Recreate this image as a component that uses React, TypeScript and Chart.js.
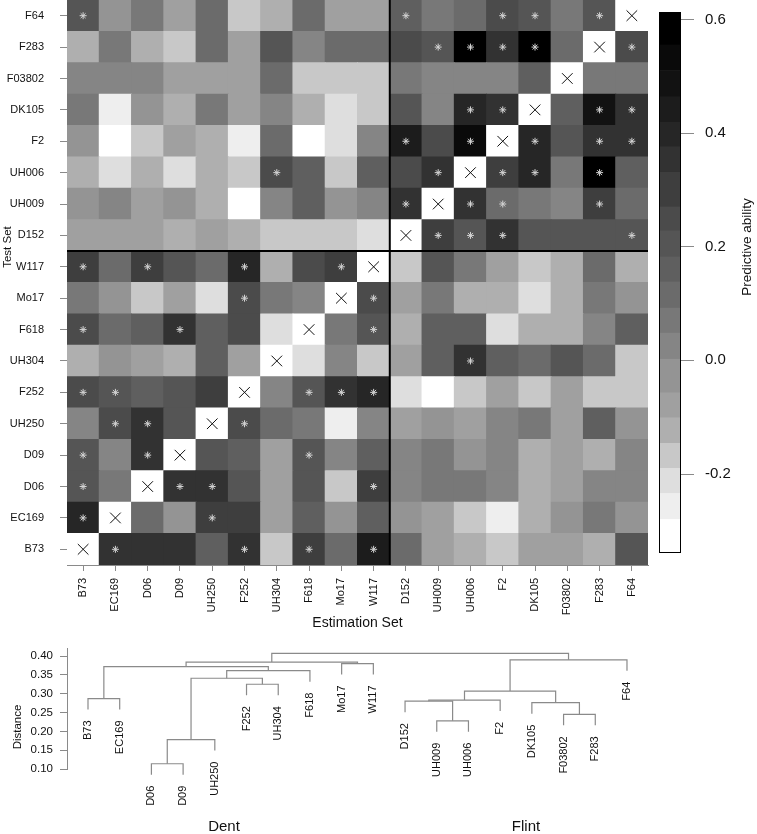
import React, { useEffect, useRef } from "react";
import { Chart, registerables } from "chart.js";
Chart.register(...registerables);

const FONT = "'Liberation Sans', Arial, Helvetica, sans-serif";

// Genotype order (x: estimation set left→right; y: test set bottom→top; dendrogram leaf order)
const genotypes = ["B73", "EC169", "D06", "D09", "UH250", "F252", "UH304", "F618", "Mo17", "W117",
  "D152", "UH009", "UH006", "F2", "DK105", "F03802", "F283", "F64"];
const dentCount = 10;

// Predictive ability, one array per test-set row; columns follow `genotypes`; null = diagonal
const rowB73 = [null, 0.36, 0.36, 0.36, 0.15, 0.36, -0.17, 0.29, 0.11, 0.43, 0.11, -0.07, -0.11, -0.17, -0.07, -0.07, -0.12, 0.22];
const rowEC169 = [0.41, null, 0.13, -0.05, 0.32, 0.32, -0.07, 0.15, -0.02, 0.15, -0.02, -0.08, -0.18, -0.25, -0.115, -0.04, 0.055, -0.01];
const rowD06 = [0.22, 0.06, null, 0.36, 0.36, 0.20, -0.07, 0.19, -0.16, 0.29, 0.01, 0.055, 0.055, 0.02, -0.11, -0.07, 0.01, 0.01];
const rowD09 = [0.19, 0.01, 0.34, null, 0.20, 0.17, -0.07, 0.20, 0.01, 0.15, 0.01, 0.055, -0.05, 0.02, -0.11, -0.07, -0.11, 0.01];
const rowUH250 = [0.04, 0.26, 0.34, 0.20, null, 0.24, 0.11, 0.08, -0.25, 0.01, -0.09, -0.05, -0.09, 0.02, 0.06, -0.07, 0.17, -0.05];
const rowF252 = [0.24, 0.20, 0.15, 0.20, 0.32, null, 0.04, 0.19, 0.36, 0.39, -0.22, -0.31, -0.17, -0.07, -0.17, -0.07, -0.16, -0.16];
const rowUH304 = [-0.12, -0.05, -0.08, -0.11, 0.15, -0.07, null, -0.20, 0.01, -0.16, -0.09, 0.15, 0.34, 0.17, 0.13, 0.22, 0.11, -0.17];
const rowF618 = [0.26, 0.11, 0.15, 0.34, 0.17, 0.24, -0.20, null, 0.08, 0.20, -0.13, 0.15, 0.15, -0.22, -0.14, -0.14, 0.01, 0.17];
const rowMo17 = [0.08, -0.02, -0.17, -0.07, -0.20, 0.26, 0.08, 0.04, null, 0.26, -0.08, 0.06, -0.11, -0.14, -0.22, -0.14, 0.055, -0.02];
const rowW117 = [0.29, 0.11, 0.32, 0.22, 0.11, 0.41, -0.12, 0.26, 0.32, null, -0.16, 0.20, 0.08, -0.07, -0.185, -0.12, 0.11, -0.12];
const rowD152 = [-0.07, -0.08, -0.08, -0.11, -0.08, -0.11, -0.16, -0.17, -0.17, -0.20, null, 0.32, 0.20, 0.36, 0.20, 0.20, 0.20, 0.19];
const rowUH009 = [-0.05, 0.04, -0.08, -0.02, -0.12, -0.31, 0.04, 0.15, -0.02, 0.04, 0.34, null, 0.36, 0.13, 0.055, 0.01, 0.29, 0.11];
const rowUH006 = [-0.12, -0.20, -0.11, -0.22, -0.11, -0.17, 0.26, 0.15, -0.16, 0.15, 0.24, 0.36, null, 0.32, 0.41, 0.06, 0.59, 0.17];
const rowF2 = [-0.05, -0.31, -0.17, -0.07, -0.12, -0.25, 0.11, -0.31, -0.20, 0.01, 0.45, 0.24, 0.53, null, 0.41, 0.20, 0.37, 0.36];
const rowDK105 = [0.055, -0.26, -0.05, -0.14, 0.06, -0.07, 0.01, -0.11, -0.20, -0.17, 0.19, 0.04, 0.41, 0.37, null, 0.15, 0.50, 0.37];
const rowF03802 = [0.04, 0.01, 0.01, -0.07, -0.07, -0.07, 0.13, -0.16, -0.17, -0.16, 0.08, 0.01, 0.04, 0.04, 0.17, null, 0.08, 0.055];
const rowF283 = [-0.12, 0.055, -0.11, -0.16, 0.13, -0.07, 0.22, 0.01, 0.11, 0.11, 0.24, 0.22, 0.59, 0.36, 0.59, 0.11, null, 0.26];
const rowF64 = [0.22, -0.02, 0.055, -0.07, 0.13, -0.16, -0.12, 0.11, -0.08, -0.08, 0.17, 0.055, 0.13, 0.26, 0.20, 0.08, 0.22, null];
const predictive = [rowB73, rowEC169, rowD06, rowD09, rowUH250, rowF252, rowUH304, rowF618, rowMo17, rowW117,
  rowD152, rowUH009, rowUH006, rowF2, rowDK105, rowF03802, rowF283, rowF64];

// Significant cells (asterisks): estimation-set genotypes per test-set row
const starsB73 = ["EC169", "F252", "F618", "W117"];
const starsEC169 = ["B73", "UH250"];
const starsD06 = ["B73", "D09", "UH250", "W117"];
const starsD09 = ["B73", "D06", "F618"];
const starsUH250 = ["EC169", "D06", "F252"];
const starsF252 = ["B73", "EC169", "F618", "Mo17", "W117"];
const starsUH304 = ["UH006"];
const starsF618 = ["B73", "D09", "W117"];
const starsMo17 = ["F252", "W117"];
const starsW117 = ["B73", "D06", "F252", "Mo17"];
const starsD152 = ["UH009", "UH006", "F2", "F64"];
const starsUH009 = ["D152", "UH006", "F2", "F283"];
const starsUH006 = ["UH304", "UH009", "F2", "DK105", "F283"];
const starsF2 = ["D152", "UH006", "DK105", "F283", "F64"];
const starsDK105 = ["UH006", "F2", "F283", "F64"];
const starsF03802: string[] = [];
const starsF283 = ["UH009", "UH006", "F2", "DK105", "F64"];
const starsF64 = ["B73", "D152", "F2", "DK105", "F283"];
const stars = [starsB73, starsEC169, starsD06, starsD09, starsUH250, starsF252, starsUH304, starsF618, starsMo17,
  starsW117, starsD152, starsUH009, starsUH006, starsF2, starsDK105, starsF03802, starsF283, starsF64];

// Colour key: band breaks (bottom → top) and the grey level of each band
const keyBreaks = [-0.339, -0.280, -0.234, -0.190, -0.146, -0.101, -0.057, 0.002, 0.048, 0.092, 0.138,
  0.182, 0.228, 0.270, 0.331, 0.376, 0.419, 0.464, 0.510, 0.555, 0.613];
const keyGrays = [255, 238, 222, 200, 175, 160, 148, 133, 120, 107, 95, 85, 75, 62, 50, 38, 28, 18, 10, 0];
const keyTicks = [-0.2, 0.0, 0.2, 0.4, 0.6];

// Dendrogram (hclust-style merges: negative = leaf number, positive = earlier merge)
const mergeLeft = [-3, 1, -12, -16, -15, -11, 6, -1, 7, -6, 2, 11, 8, -9, 13, 9, 15];
const mergeRight = [-4, -5, -13, -17, 4, 3, -14, -2, 5, -7, 10, -8, 12, -10, 14, -18, 16];
const mergeHeight = [0.114, 0.178, 0.228, 0.245, 0.276, 0.280, 0.283, 0.287, 0.307, 0.325, 0.341, 0.361, 0.372, 0.380, 0.384, 0.390, 0.407];
const leafHang = 0.029;
const distanceTicks = [0.10, 0.15, 0.20, 0.25, 0.30, 0.35, 0.40];

function grayCss(g: number) {
  return `rgb(${g},${g},${g})`;
}
function cellColor(v: number | null) {
  if (v === null || v === undefined) return "#ffffff";
  let i = 0;
  while (i < keyGrays.length - 1 && v >= keyBreaks[i + 1]) i++;
  return grayCss(keyGrays[i]);
}

function drawRotated(ctx: CanvasRenderingContext2D, text: string, x: number, y: number, font: string, align: CanvasTextAlign) {
  ctx.save();
  ctx.translate(x, y);
  ctx.rotate(-Math.PI / 2);
  ctx.font = font;
  ctx.fillStyle = "#111";
  ctx.textAlign = align;
  ctx.textBaseline = "middle";
  ctx.fillText(text, 0, 0);
  ctx.restore();
}

function heatConfig(): any {
  const bars = predictive.map((row, r) => ({
    type: "bar",
    data: row.map(() => [r - 0.5, r + 0.5]),
    backgroundColor: row.map(cellColor),
    borderWidth: 0,
    grouped: false,
    barPercentage: 1,
    categoryPercentage: 1,
    inflateAmount: 0.5,
    order: 2,
  }));
  const starPts: any[] = [];
  stars.forEach((list, r) => list.forEach((g) => starPts.push({ x: g, y: r })));
  const starSet = {
    type: "line",
    data: starPts,
    showLine: false,
    pointStyle: "star",
    pointRadius: 3.5,
    pointBorderColor: "#d4d4d4",
    pointBackgroundColor: "rgba(0,0,0,0)",
    pointBorderWidth: 1,
    order: 0,
  };
  const diagSet = {
    type: "line",
    data: genotypes.map((g, i) => ({ x: g, y: i })),
    showLine: false,
    pointStyle: "crossRot",
    pointRadius: 7.5,
    pointBorderColor: "#111",
    pointBackgroundColor: "rgba(0,0,0,0)",
    pointBorderWidth: 1,
    order: 0,
  };
  const separators = {
    id: "separators",
    afterDatasetsDraw(chart: any) {
      const { ctx, chartArea, scales } = chart;
      const xs = (scales.x.getPixelForValue(dentCount - 1) + scales.x.getPixelForValue(dentCount)) / 2;
      const ys = scales.y.getPixelForValue(dentCount - 0.5);
      ctx.save();
      ctx.strokeStyle = "#000";
      ctx.lineWidth = 2;
      ctx.beginPath();
      ctx.moveTo(xs, chartArea.top);
      ctx.lineTo(xs, chartArea.bottom);
      ctx.moveTo(chartArea.left, ys);
      ctx.lineTo(chartArea.right, ys);
      ctx.stroke();
      ctx.restore();
    },
    afterDraw(chart: any) {
      drawRotated(chart.ctx, "Test Set", 8, 247, `11.5px ${FONT}`, "center");
    },
  };
  return {
    type: "bar",
    data: { labels: genotypes, datasets: [...bars, starSet, diagSet] },
    plugins: [separators],
    options: {
      responsive: false,
      animation: false,
      events: [],
      layout: { autoPadding: false, padding: { top: 0, right: 12, left: 0, bottom: 0 } },
      plugins: { legend: { display: false }, tooltip: { enabled: false } },
      scales: {
        x: {
          type: "category",
          offset: true,
          grid: { offset: false, drawOnChartArea: false, drawTicks: true, tickLength: 6, color: "#8a8a8a" },
          border: { display: true, color: "#8a8a8a", width: 1 },
          ticks: { autoSkip: false, minRotation: 90, maxRotation: 90, padding: 7, color: "#111", font: { size: 11 } },
          title: { display: true, text: "Estimation Set", color: "#111", font: { size: 14 }, padding: { top: 4, bottom: 4 } },
          afterFit: (s: any) => { s.height = 71; s.paddingLeft = 0; s.paddingRight = 0; s.paddingTop = 0; s.paddingBottom = 0; },
        },
        y: {
          type: "linear",
          min: -0.5,
          max: genotypes.length - 0.5,
          afterBuildTicks: (s: any) => { s.ticks = genotypes.map((_, i) => ({ value: i })); },
          grid: { drawOnChartArea: false, drawTicks: true, tickLength: 7, color: "#8a8a8a" },
          border: { display: true, color: "#8a8a8a", width: 1 },
          ticks: { autoSkip: false, padding: 16, color: "#111", font: { size: 11 }, callback: (v: any) => genotypes[v] },
          afterFit: (s: any) => { s.width = 67; s.paddingTop = 0; s.paddingBottom = 0; s.paddingLeft = 0; s.paddingRight = 0; },
        },
      },
    },
  };
}

function colorbarConfig(): any {
  const bands = keyGrays.map((g, i) => ({
    data: [[keyBreaks[i], keyBreaks[i + 1]]],
    backgroundColor: grayCss(g),
    borderWidth: 0,
    grouped: false,
    barPercentage: 1,
    categoryPercentage: 1,
    inflateAmount: 0.3,
  }));
  const frame = {
    id: "frame",
    afterDraw(chart: any) {
      const { ctx, chartArea } = chart;
      ctx.save();
      ctx.strokeStyle = "#000";
      ctx.lineWidth = 1;
      ctx.strokeRect(chartArea.left + 0.5, chartArea.top + 0.5, chartArea.right - chartArea.left - 1, chartArea.bottom - chartArea.top - 1);
      ctx.restore();
      drawRotated(ctx, "Predictive ability", 97, 247, `13.5px ${FONT}`, "center");
    },
  };
  return {
    type: "bar",
    data: { labels: ["key"], datasets: bands },
    plugins: [frame],
    options: {
      responsive: false,
      animation: false,
      events: [],
      layout: { autoPadding: false, padding: { top: 12, bottom: 17, left: 9, right: 0 } },
      plugins: { legend: { display: false }, tooltip: { enabled: false } },
      scales: {
        x: { display: false },
        y: {
          position: "right",
          min: keyBreaks[0],
          max: keyBreaks[keyBreaks.length - 1],
          afterBuildTicks: (s: any) => { s.ticks = keyTicks.map((v) => ({ value: v })); },
          grid: { drawOnChartArea: false, drawTicks: true, tickLength: 13, color: "#8a8a8a" },
          border: { display: false },
          ticks: { padding: 11, color: "#111", font: { size: 15 }, callback: (v: any) => Number(v).toFixed(1) },
          afterFit: (s: any) => { s.width = 76; s.paddingTop = 0; s.paddingBottom = 0; },
        },
      },
    },
  };
}

function dendroConfig(): any {
  const n = genotypes.length;
  const mx: number[] = [];
  const leafEnd: number[] = new Array(n).fill(0);
  const childX = (c: number) => (c < 0 ? -c - 1 : mx[c - 1]);
  const childH = (c: number, parentH: number) => (c < 0 ? parentH - leafHang : mergeHeight[c - 1]);
  const datasets = mergeHeight.map((h, k) => {
    const a = mergeLeft[k];
    const b = mergeRight[k];
    const xa = childX(a);
    const xb = childX(b);
    mx.push((xa + xb) / 2);
    if (a < 0) leafEnd[-a - 1] = h - leafHang;
    if (b < 0) leafEnd[-b - 1] = h - leafHang;
    return {
      data: [
        { x: xa, y: childH(a, h) },
        { x: xa, y: h },
        { x: xb, y: h },
        { x: xb, y: childH(b, h) },
      ],
      showLine: true,
      borderColor: "#8a8a8a",
      borderWidth: 1.2,
      pointRadius: 0,
      tension: 0,
      clip: false,
    };
  });
  const labels = {
    id: "leafLabels",
    afterDatasetsDraw(chart: any) {
      const { ctx, scales } = chart;
      genotypes.forEach((g, i) => {
        const px = scales.x.getPixelForValue(i);
        const py = scales.y.getPixelForValue(leafEnd[i]) + 11;
        drawRotated(ctx, g, px, py, `11px ${FONT}`, "right");
      });
      drawRotated(ctx, "Distance", 18, 87, `11.5px ${FONT}`, "center");
      ctx.save();
      ctx.font = `15px ${FONT}`;
      ctx.fillStyle = "#111";
      ctx.textAlign = "center";
      ctx.textBaseline = "middle";
      ctx.fillText("Dent", 224, 187);
      ctx.fillText("Flint", 526, 187);
      ctx.restore();
    },
  };
  return {
    type: "scatter",
    data: { datasets },
    plugins: [labels],
    options: {
      responsive: false,
      animation: false,
      events: [],
      layout: { autoPadding: false, padding: { top: 8, bottom: 65, right: 57, left: 0 } },
      plugins: { legend: { display: false }, tooltip: { enabled: false } },
      scales: {
        x: { type: "linear", display: false, min: -0.6623, max: 19.303 },
        y: {
          type: "linear",
          min: 0.10,
          max: 0.4213,
          afterBuildTicks: (s: any) => { s.ticks = distanceTicks.map((v) => ({ value: v })); },
          grid: { drawOnChartArea: false, drawTicks: true, tickLength: 7, color: "#8a8a8a" },
          border: { display: true, color: "#8a8a8a", width: 1 },
          ticks: { padding: 7, color: "#111", font: { size: 11.5 }, callback: (v: any) => Number(v).toFixed(2) },
          afterFit: (s: any) => { s.width = 67; s.paddingTop = 0; s.paddingBottom = 0; },
        },
      },
    },
  };
}

export default function App() {
  const heatRef = useRef<HTMLCanvasElement>(null);
  const keyRef = useRef<HTMLCanvasElement>(null);
  const dendRef = useRef<HTMLCanvasElement>(null);
  useEffect(() => {
    Chart.defaults.font.family = FONT;
    Chart.defaults.color = "#111";
    const charts = [
      new Chart(heatRef.current as HTMLCanvasElement, heatConfig()),
      new Chart(keyRef.current as HTMLCanvasElement, colorbarConfig()),
      new Chart(dendRef.current as HTMLCanvasElement, dendroConfig()),
    ];
    return () => charts.forEach((c) => c.destroy());
  }, []);
  return (
    <div style={{ position: "absolute", left: 0, top: 0, width: 757, height: 834, background: "#fff" }}>
      <canvas ref={heatRef} width={660} height={636} style={{ position: "absolute", left: 0, top: 0 }} />
      <canvas ref={keyRef} width={107} height={570} style={{ position: "absolute", left: 650, top: 0 }} />
      <canvas ref={dendRef} width={757} height={194} style={{ position: "absolute", left: 0, top: 640 }} />
    </div>
  );
}
